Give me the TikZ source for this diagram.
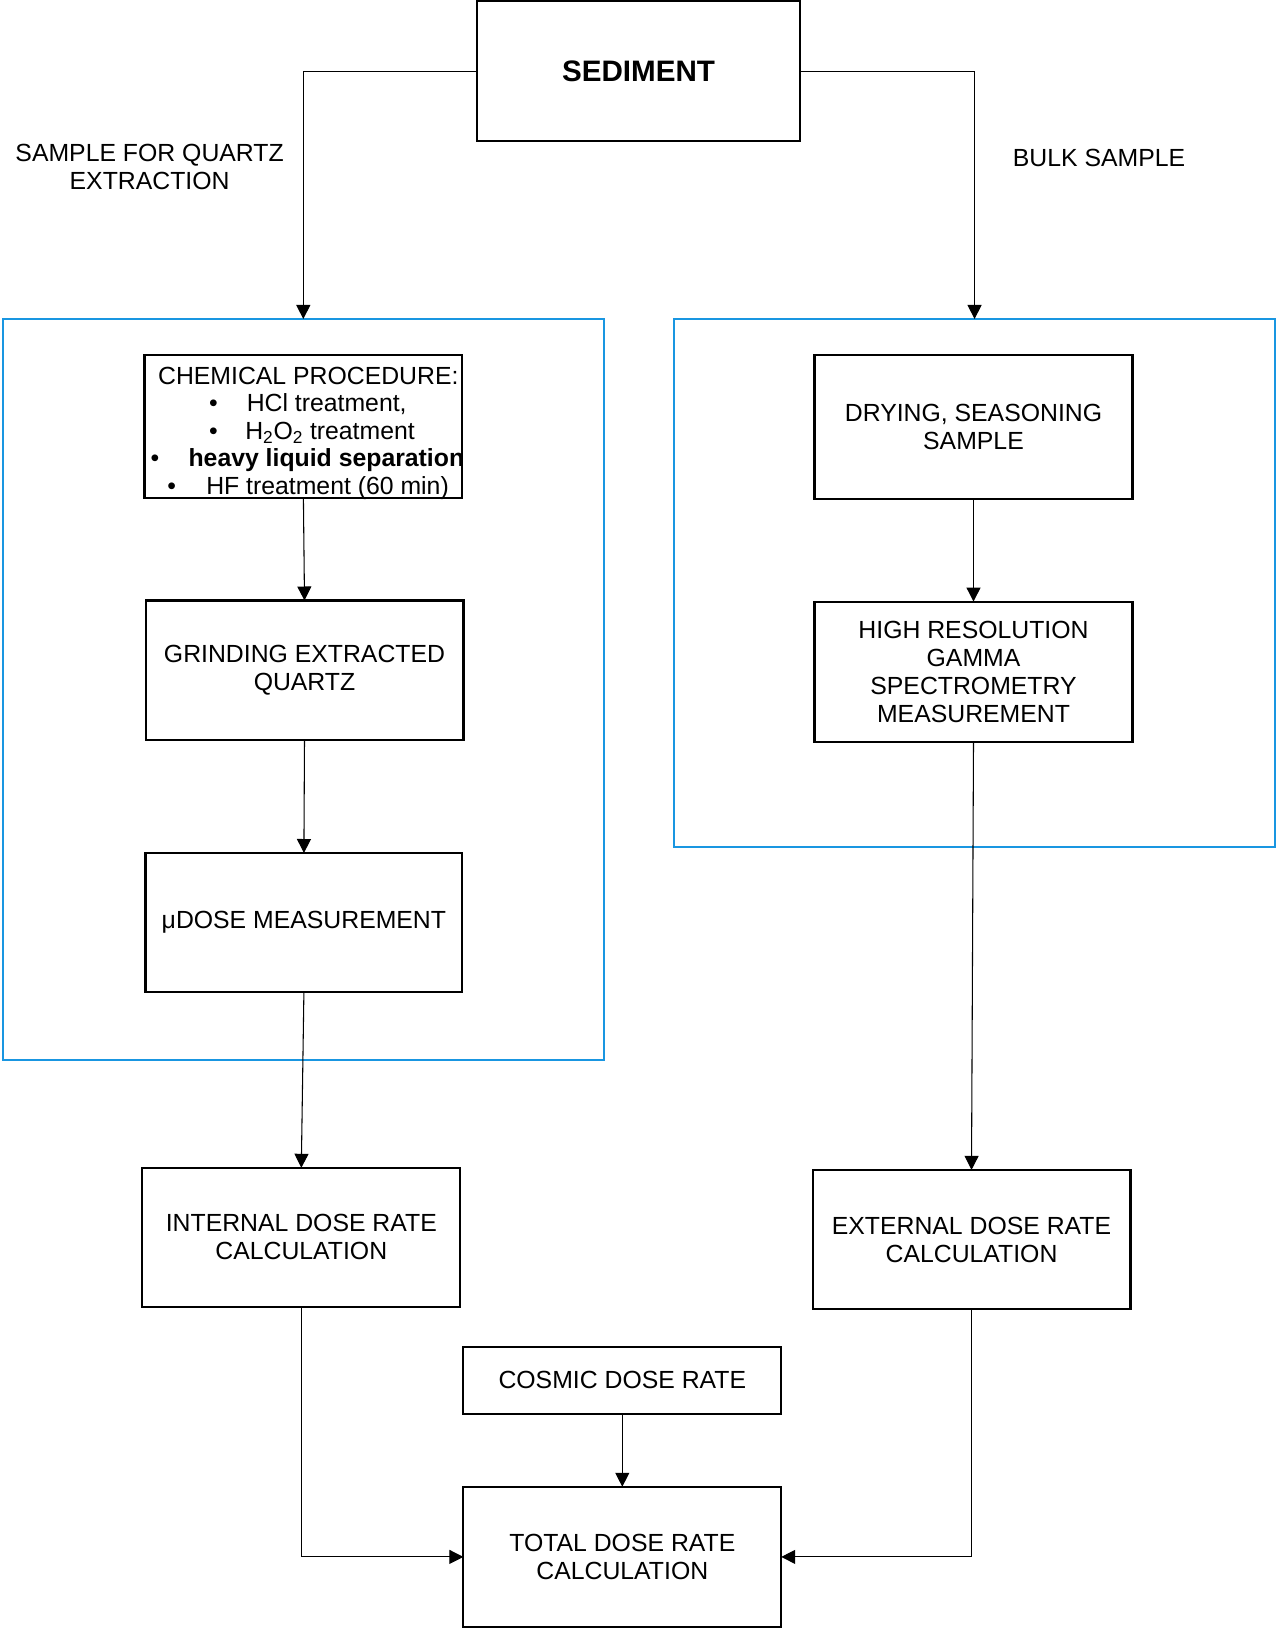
\documentclass[tikz,border=0pt]{standalone}
\usepackage{fontspec}
\setmainfont{Liberation Sans}
\usetikzlibrary{arrows.meta}
\definecolor{grpblue}{RGB}{25,150,225}
\begin{document}
\begin{tikzpicture}[x=0.75pt,y=-0.75pt,
  txt/.style={font=\fontsize{18.6pt}{21pt}\selectfont, align=center, text=black, inner sep=0pt},
  box/.style={txt, draw=black, line width=1.6pt, outer sep=0pt},
  grp/.style={draw=grpblue, line width=1.6pt, inner sep=0pt, outer sep=0pt},
  arr/.style={draw=black, line width=0.8pt, -{Triangle[length=10.5pt,width=10.5pt]}},
  conn/.style={draw=black, line width=0.8pt}]
\fill[white] (0,0) rectangle (1280,1633);
\useasboundingbox (0,0) rectangle (1280,1633);

% group frames
\node[grp, minimum width=450.45pt, minimum height=555.6pt] (lgrp) at (303.3,689.4) {};
\node[grp, minimum width=450.4pt, minimum height=395.85pt] (rgrp) at (974.55,582.9) {};

% top
\node[box, minimum width=242.3pt, minimum height=105.2pt,
      font=\fontsize{22.2pt}{26pt}\selectfont\bfseries] (sed) at (638.5,71.2) {SEDIMENT};
\node[txt] (lqlab) at (149.6,166.8) {SAMPLE FOR QUARTZ\\EXTRACTION};
\node[txt] (bulk) at (1099,158) {BULK SAMPLE};

% left column
\node[box, minimum width=238.4pt, minimum height=106.8pt] (chem) at (303.4,426.5) {};
\node[txt, anchor=base] (chem1) at (308.3,384) {CHEMICAL PROCEDURE:};
\node[txt, anchor=base] (b2) at (213.5,411.5) {•};
\node[txt, anchor=base west] (chem2) at (246.5,411.5) {HCl treatment,};
\node[txt, anchor=base] (b3) at (213.5,439) {•};
\node[txt, anchor=base west] (chem3) at (245,439) {H\textsubscript{2}O\textsubscript{2} treatment};
\node[txt, anchor=base] (b4) at (155,466.5) {•};
\node[txt, anchor=base west, font=\fontsize{18.6pt}{21pt}\selectfont\bfseries] (chem4) at (188.3,466.5) {heavy liquid separation};
\node[txt, anchor=base] (b5) at (171.7,494) {•};
\node[txt, anchor=base west] (chem5) at (206,494) {HF treatment (60 min)};

\node[box, minimum width=238.4pt, minimum height=104.4pt] (grind) at (304.5,670.1) {GRINDING EXTRACTED\\QUARTZ};
\node[box, minimum width=237.6pt, minimum height=104.4pt] (mu) at (303.9,922.6) {μDOSE MEASUREMENT};
\node[box, minimum width=238.5pt, minimum height=104.4pt] (intl) at (301.3,1237.4) {INTERNAL DOSE RATE\\CALCULATION};

% right column
\node[box, minimum width=238.5pt, minimum height=107.5pt] (dry) at (973.5,427) {DRYING, SEASONING\\SAMPLE};
\node[box, minimum width=238.5pt, minimum height=105.2pt] (hr) at (973.5,671.7) {HIGH RESOLUTION\\GAMMA\\SPECTROMETRY\\MEASUREMENT};
\node[box, minimum width=238.4pt, minimum height=104.4pt] (ext) at (971.5,1239.5) {EXTERNAL DOSE RATE\\CALCULATION};

% bottom
\node[box, minimum width=238.4pt, minimum height=50.6pt] (cos) at (622.3,1380.3) {COSMIC DOSE RATE};
\node[box, minimum width=238.4pt, minimum height=105.2pt] (tot) at (622.3,1556.9) {TOTAL DOSE RATE\\CALCULATION};

% connectors
\draw[arr] (sed.west) -| (lgrp.north);
\draw[arr] (sed.east) -| (rgrp.north);
\draw[arr] (chem.south) -- (grind.north);
\draw[arr] (grind.south) -- (mu.north);
\draw[arr] (mu.south) -- (intl.north);
\draw[arr] (dry.south) -- (hr.north);
\draw[arr] (hr.south) -- (ext.north);
\draw[arr] (intl.south) |- (tot.west);
\draw[arr] (ext.south) |- (tot.east);
\draw[arr] (cos.south) -- (tot.north);
\end{tikzpicture}
\end{document}
